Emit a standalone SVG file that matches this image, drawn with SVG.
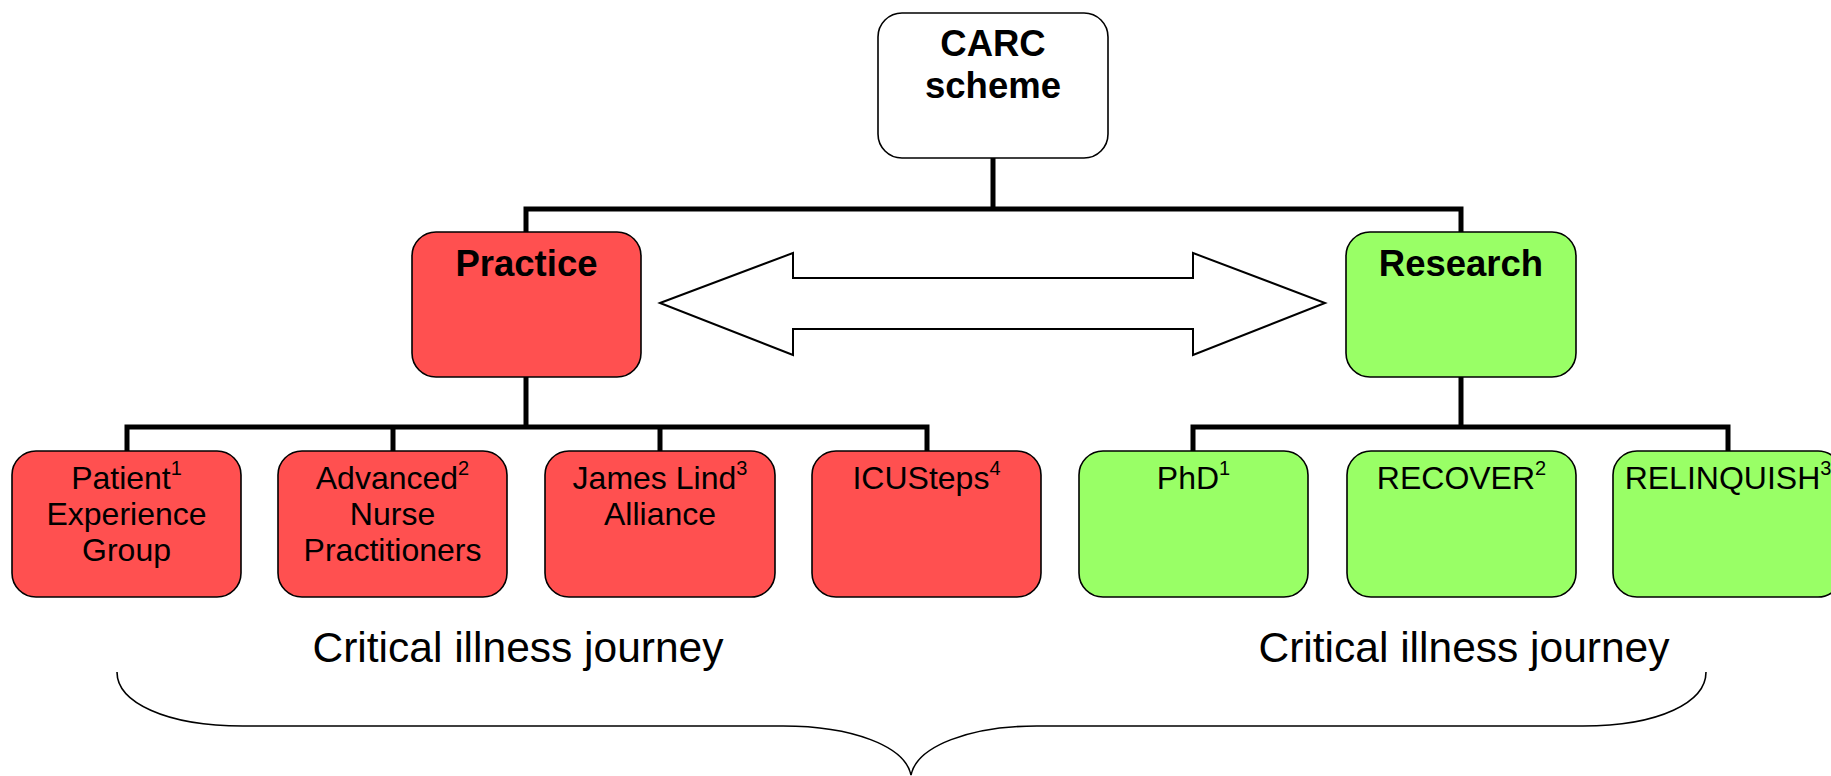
<svg xmlns="http://www.w3.org/2000/svg" width="1831" height="776" viewBox="0 0 1831 776">
<style>
.box{stroke:#000;stroke-width:1.6}
.white{fill:#fff}
.red{fill:#FF5050}
.green{fill:#99FF66}
.title{font-family:"Liberation Sans",Arial,sans-serif;font-weight:bold;font-size:36.5px;text-anchor:middle;fill:#000}
.lbl{font-family:"Liberation Sans",Arial,sans-serif;font-size:32px;text-anchor:middle;fill:#000}
.sup{font-size:20px}
.big{font-family:"Liberation Sans",Arial,sans-serif;font-size:42.5px;text-anchor:middle;fill:#000}
.conn{fill:none;stroke:#000;stroke-width:5;stroke-linejoin:miter;stroke-linecap:butt}
</style>
<rect width="1831" height="776" fill="#fff"/>
<g id="connectors">
<path class="conn" d="M993,158 V209"/>
<path class="conn" d="M526,232 V209 H1461 V232"/>
<path class="conn" d="M526,377 V427"/>
<path class="conn" d="M127,451 V427 H927 V451"/>
<path class="conn" d="M393,427 V451"/>
<path class="conn" d="M660,427 V451"/>
<path class="conn" d="M1461,377 V427"/>
<path class="conn" d="M1193,451 V427 H1728 V451"/>
<polygon id="double-arrow" points="660,303 793,253 793,278 1193,278 1193,253 1325,303 1193,355 1193,329 793,329 793,355" fill="#fff" stroke="#000" stroke-width="2"/>
</g>
<g id="carc">
<rect class="box white" x="878" y="13" width="230" height="145" rx="24"/>
<text class="title" x="993" y="56">CARC</text>
<text class="title" x="993" y="98">scheme</text>
</g>
<g id="practice">
<rect class="box red" x="412" y="232" width="229" height="145" rx="24"/>
<text class="title" x="526.5" y="276">Practice</text>
</g>
<g id="research">
<rect class="box green" x="1346" y="232" width="230" height="145" rx="24"/>
<text class="title" x="1461" y="276">Research</text>
</g>
<g id="patient">
<rect class="box red" x="12" y="451" width="229" height="146" rx="24"/>
<text class="lbl" x="126.5" y="489">Patient<tspan class="sup" dy="-14">1</tspan></text>
<text class="lbl" x="126.5" y="525">Experience</text>
<text class="lbl" x="126.5" y="561">Group</text>
</g>
<g id="anp">
<rect class="box red" x="278" y="451" width="229" height="146" rx="24"/>
<text class="lbl" x="392.5" y="489">Advanced<tspan class="sup" dy="-14">2</tspan></text>
<text class="lbl" x="392.5" y="525">Nurse</text>
<text class="lbl" x="392.5" y="561">Practitioners</text>
</g>
<g id="jla">
<rect class="box red" x="545" y="451" width="230" height="146" rx="24"/>
<text class="lbl" x="660" y="489">James Lind<tspan class="sup" dy="-14">3</tspan></text>
<text class="lbl" x="660" y="525">Alliance</text>
</g>
<g id="icusteps">
<rect class="box red" x="812" y="451" width="229" height="146" rx="24"/>
<text class="lbl" x="926.5" y="489">ICUSteps<tspan class="sup" dy="-14">4</tspan></text>
</g>
<g id="phd">
<rect class="box green" x="1079" y="451" width="229" height="146" rx="24"/>
<text class="lbl" x="1193.5" y="489">PhD<tspan class="sup" dy="-14">1</tspan></text>
</g>
<g id="recover">
<rect class="box green" x="1347" y="451" width="229" height="146" rx="24"/>
<text class="lbl" x="1461.5" y="489">RECOVER<tspan class="sup" dy="-14">2</tspan></text>
</g>
<g id="relinquish">
<rect class="box green" x="1613" y="451" width="229" height="146" rx="24"/>
<text class="lbl" x="1728" y="489">RELINQUISH<tspan class="sup" dy="-14">3</tspan></text>
</g>
<g id="journey">
<text class="big" x="518" y="662">Critical illness journey</text>
<text class="big" x="1464" y="662">Critical illness journey</text>
<path d="M117,672 C117,702 165,726 243,726 L783,726 C852,726 905,746 911,775 C917,746 970,726 1037,726 L1583,726 C1660,726 1706,702 1706,672" fill="none" stroke="#000" stroke-width="1.6"/>
</g>
</svg>
